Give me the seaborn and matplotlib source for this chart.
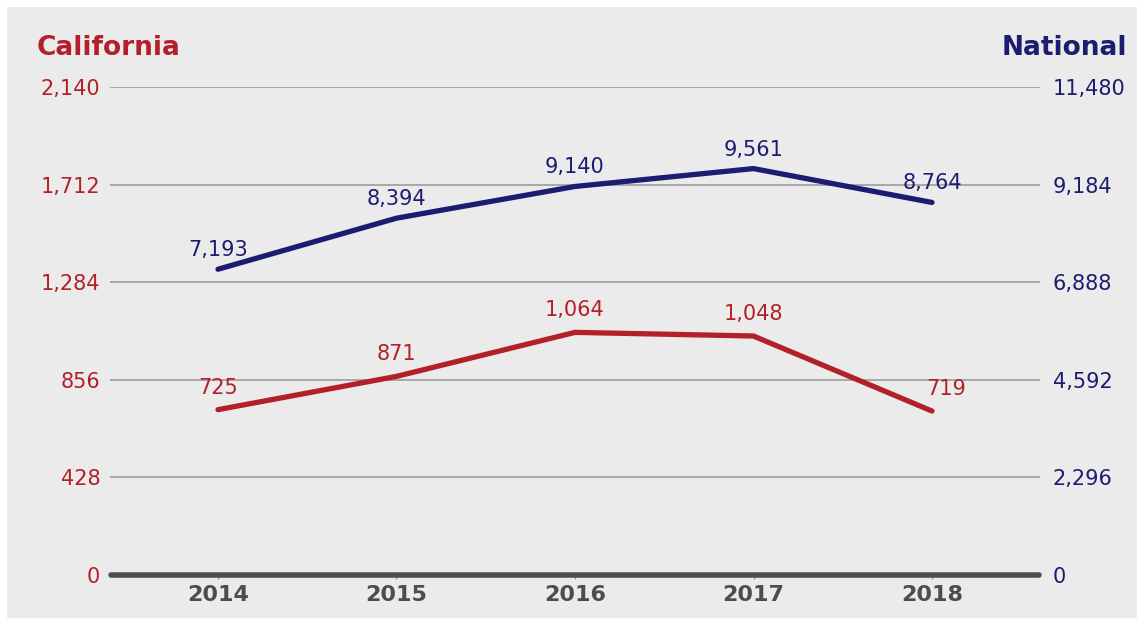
import numpy as np
import pandas as pd
import matplotlib
matplotlib.use("Agg")
from matplotlib import pyplot as plt
from matplotlib.patches import Rectangle
import seaborn as sns

# data
years = ["2014", "2015", "2016", "2017", "2018"]
california = [725, 871, 1064, 1048, 719]
national = [7193, 8394, 9140, 9561, 8764]
left_ticks = [0, 428, 856, 1284, 1712, 2140]
right_ticks = [0, 2296, 4592, 6888, 9184, 11480]

RED = "#b3202a"
NAVY = "#1c1c70"
GREY_BG = "#ebebeb"
DARK = "#4d4d4d"

sns.set_theme(style="white")
plt.rcParams["font.family"] = ["DejaVu Sans"]

df = pd.DataFrame({"idx": np.arange(len(years)), "year": years,
                   "California": california, "National": national})

fig = plt.figure(figsize=(11.44, 6.25), dpi=100)
fig.patch.set_facecolor("white")
fig.patches.append(Rectangle((7 / 1144, 7 / 625), 1130 / 1144, 611 / 625,
                             transform=fig.transFigure, facecolor=GREY_BG,
                             edgecolor="none", zorder=-10))

ax = fig.add_axes([110 / 1144, 1 - 575 / 625, 930 / 1144, 488 / 625])
ax.set_facecolor("none")
ax2 = ax.twinx()
ax2.set_facecolor("none")

# gridlines (left scale)
for t in left_ticks[1:]:
    ax.axhline(t, color="#959595", lw=1.1, zorder=1)

sns.lineplot(data=df, x="idx", y="California", ax=ax, color=RED, lw=3.8,
             zorder=3, legend=False)
sns.lineplot(data=df, x="idx", y="National", ax=ax2, color=NAVY, lw=3.8,
             zorder=3, legend=False)

# baseline
ax.plot([-0.6, 4.6], [0, 0], color=DARK, lw=4, solid_capstyle="round",
        zorder=4, clip_on=False)

ax.set_xlim(-0.605, 4.605)
ax.set_ylim(0, 2140)
ax2.set_ylim(0, 11480)

ax.set_xticks(df["idx"])
ax.set_xticklabels(years, fontsize=16, fontweight="bold", color=DARK)
ax.set_yticks(left_ticks)
ax.set_yticklabels([f"{v:,}" for v in left_ticks], fontsize=15, color=RED)
ax2.set_yticks(right_ticks)
ax2.set_yticklabels([f"{v:,}" for v in right_ticks], fontsize=15, color=NAVY)

ax.tick_params(axis="y", length=0, pad=7)
ax2.tick_params(axis="y", length=0, pad=9)
ax.tick_params(axis="x", length=3, width=0.8, color="#888888", pad=4,
               direction="out", bottom=True)

for a in (ax, ax2):
    for s in a.spines.values():
        s.set_visible(False)
    a.set_xlabel("")
    a.set_ylabel("")

# value labels
for i, v in enumerate(california):
    dx = 0.08 if i == 4 else 0
    ax.annotate(f"{v:,}", (i, v), xytext=(dx * 178, 12), textcoords="offset pixels",
                ha="center", va="bottom", fontsize=15, color=RED)
for i, v in enumerate(national):
    ax2.annotate(f"{v:,}", (i, v), xytext=(0, 9), textcoords="offset pixels",
                 ha="center", va="bottom", fontsize=15, color=NAVY)

fig.text(37 / 1144, 1 - 55 / 625, "California", fontsize=19, fontweight="bold",
         color=RED, ha="left", va="baseline")
fig.text(1127 / 1144, 1 - 55 / 625, "National", fontsize=19, fontweight="bold",
         color=NAVY, ha="right", va="baseline")

fig.savefig("out.png", dpi=100)
